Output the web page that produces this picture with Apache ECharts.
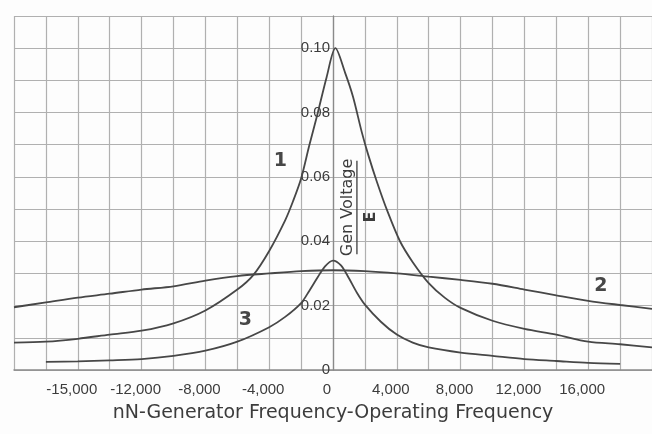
<!DOCTYPE html>
<html>
<head>
<meta charset="utf-8">
<script src="https://cdn.jsdelivr.net/npm/echarts@6/dist/echarts.min.js"></script>
<style>
  html, body { margin: 0; padding: 0; background: #fdfdfd; }
  #chart { width: 652px; height: 434px; }
</style>
</head>
<body>
<div id="chart"></div>
<script>
// ---- Data ----
const curve1X = [-20000, -18000, -16000, -14000, -12000, -10000, -8000, -6000, -5000, -4000, -3000, -2500, -2000, -1500, -1000, -400, 150, 750, 1250, 1800, 2200, 2750, 3400, 4200, 5000, 6000, 7000, 8000, 10000, 12000, 14000, 16000, 18000, 20000];
const curve1Y = [0.0085, 0.0088, 0.0097, 0.011, 0.0122, 0.0145, 0.0185, 0.025, 0.0295, 0.037, 0.0465, 0.0525, 0.0595, 0.0695, 0.079, 0.091, 0.100, 0.0925, 0.085, 0.074, 0.067, 0.0585, 0.0495, 0.040, 0.0335, 0.027, 0.0225, 0.0193, 0.0153, 0.0128, 0.011, 0.0088, 0.008, 0.007];

const curve2X = [-20000, -18000, -16000, -14000, -12000, -10000, -8000, -6000, -4000, -2000, 0, 2000, 4000, 6000, 8000, 10000, 12000, 14000, 16000, 18000, 20000];
const curve2Y = [0.0195, 0.021, 0.0225, 0.0237, 0.025, 0.026, 0.0278, 0.0292, 0.030, 0.0307, 0.031, 0.0307, 0.030, 0.029, 0.028, 0.0268, 0.025, 0.0232, 0.0215, 0.0202, 0.019];

const curve3X = [-18000, -16000, -14000, -12000, -10000, -8000, -6000, -4000, -3000, -2000, -1500, -1000, -500, 0, 500, 1000, 1500, 2000, 3000, 4000, 5000, 6000, 8000, 10000, 12000, 14000, 16000, 18000];
const curve3Y = [0.0025, 0.0027, 0.003, 0.0034, 0.0044, 0.006, 0.0088, 0.0133, 0.0165, 0.0208, 0.0245, 0.0285, 0.0322, 0.034, 0.0325, 0.0285, 0.024, 0.0203, 0.015, 0.011, 0.0085, 0.007, 0.0054, 0.0044, 0.0034, 0.0028, 0.0022, 0.0019];

const xTickValues = [-16000, -12000, -8000, -4000, 0, 4000, 8000, 12000, 16000];
const xTickLabels = ['-15,000', '-12,000', '-8,000', '-4,000', '0', '4,000', '8,000', '12,000', '16,000'];
const yTickValues = [0, 0.02, 0.04, 0.06, 0.08, 0.10];
const yTickLabels = ['0', '0.02', '0.04', '0.06', '0.08', '0.10'];

const xAxisTitle = 'nN-Generator Frequency-Operating Frequency';
const curveNames = ['1', '2', '3'];
const curveNameAnchors = [[-3300, 0.065], [16800, 0.026], [-5500, 0.0155]];
const yTitleTop = 'Gen Voltage';
const yTitleBottom = 'E';

// ---- Chart ----
const ink = '#474747';
const textInk = '#3c3c3c';
const gridColor = '#b0b0b0';
const font = '"Liberation Sans", sans-serif';

const GRID_LEFT = 14, GRID_RIGHT = 0, X_MIN = -20000, X_MAX = 20000;
const gridWidth = 652 - GRID_LEFT - GRID_RIGHT;
const zeroOffset = gridWidth * (0 - X_MIN) / (X_MAX - X_MIN);

function pairs(xs, ys) { return xs.map((x, i) => [x, ys[i]]); }

const chart = echarts.init(document.getElementById('chart'), null, { renderer: 'canvas' });

const lineStyle = { color: ink, width: 1.8 };

chart.setOption({
  backgroundColor: '#fdfdfd',
  animation: false,
  grid: { left: GRID_LEFT, right: GRID_RIGHT, top: 16, bottom: 64, containLabel: false, outerBoundsMode: 'none' },
  xAxis: {
    type: 'value',
    min: X_MIN, max: X_MAX, interval: 2000,
    axisLine: { onZero: false, lineStyle: { color: '#8a8a8a', width: 1.5 } },
    axisTick: { show: false },
    splitLine: { show: true, lineStyle: { color: gridColor, width: 1.2 } },
    axisLabel: {
      color: textInk, fontFamily: font, fontSize: 15, margin: 12,
      padding: [0, 12, 0, 0],
      formatter: function (v) {
        const i = xTickValues.indexOf(Math.round(v));
        return i >= 0 ? xTickLabels[i] : '';
      }
    },
    name: xAxisTitle,
    nameLocation: 'middle',
    nameGap: 34,
    nameTextStyle: { color: textInk, fontFamily: '"DejaVu Sans", sans-serif', fontSize: 19 }
  },
  yAxis: {
    type: 'value',
    min: 0, max: 0.11, interval: 0.01,
    position: 'left',
    offset: -zeroOffset,
    axisLine: { show: true, onZero: false, lineStyle: { color: '#8a8a8a', width: 1.3 } },
    axisTick: { show: false },
    splitLine: { show: true, lineStyle: { color: gridColor, width: 1.2 } },
    axisLabel: {
      color: textInk, fontFamily: font, fontSize: 15, margin: 3,
      formatter: function (v) {
        const h = Math.round(v * 100);
        for (let i = 0; i < yTickValues.length; i++) {
          if (Math.round(yTickValues[i] * 100) === h) return yTickLabels[i];
        }
        return '';
      }
    }
  },
  series: [
    { type: 'line', name: curveNames[0], data: pairs(curve1X, curve1Y), smooth: 0.3, showSymbol: false, lineStyle: lineStyle, z: 3 },
    { type: 'line', name: curveNames[1], data: pairs(curve2X, curve2Y), smooth: 0.3, showSymbol: false, lineStyle: lineStyle, z: 3 },
    { type: 'line', name: curveNames[2], data: pairs(curve3X, curve3Y), smooth: 0.3, showSymbol: false, lineStyle: lineStyle, z: 3 }
  ]
});

// annotations anchored in data space
const graphics = [];
curveNames.forEach((n, i) => {
  const p = chart.convertToPixel({ gridIndex: 0 }, curveNameAnchors[i]);
  graphics.push({
    type: 'text', x: p[0], y: p[1], z: 10,
    style: { text: n, fill: ink, font: 'bold 19px "DejaVu Sans", sans-serif', textAlign: 'center', textVerticalAlign: 'middle' }
  });
});
const gv = chart.convertToPixel({ gridIndex: 0 }, [940, 0.0505]);
graphics.push({
  type: 'text', x: gv[0], y: gv[1], rotation: Math.PI / 2, z: 10,
  style: { text: yTitleTop, fill: textInk, font: '16px "DejaVu Sans", sans-serif', textAlign: 'center', textVerticalAlign: 'middle' }
});
const l1 = chart.convertToPixel({ gridIndex: 0 }, [1500, 0.065]);
const l2 = chart.convertToPixel({ gridIndex: 0 }, [1500, 0.036]);
graphics.push({
  type: 'line', z: 10, shape: { x1: l1[0], y1: l1[1], x2: l2[0], y2: l2[1] },
  style: { stroke: textInk, lineWidth: 1.3 }
});
const ep = chart.convertToPixel({ gridIndex: 0 }, [2400, 0.0475]);
graphics.push({
  type: 'text', x: ep[0], y: ep[1], rotation: Math.PI / 2, z: 10,
  style: { text: yTitleBottom, fill: textInk, font: 'bold 16px "DejaVu Sans", sans-serif', textAlign: 'center', textVerticalAlign: 'middle' }
});
chart.setOption({ graphic: graphics });
</script>
</body>
</html>
